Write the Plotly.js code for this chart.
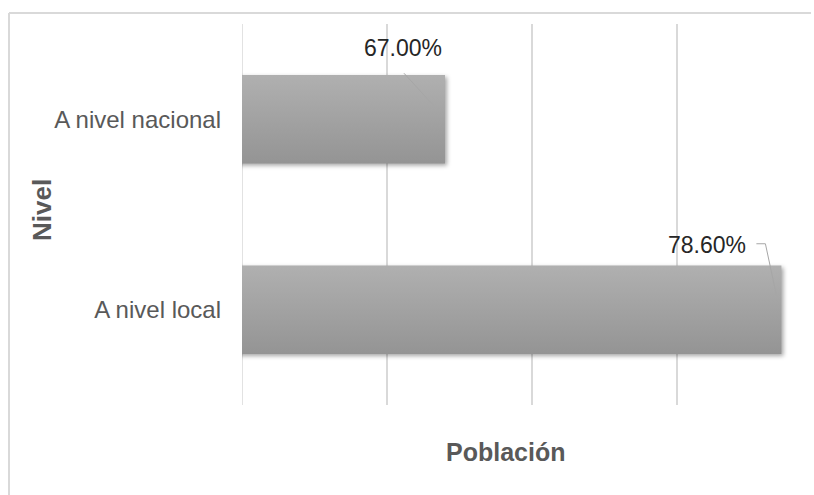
<!DOCTYPE html>
<html>
<head>
<meta charset="utf-8">
<script src="https://cdn.plot.ly/plotly-3.0.1.min.js"></script>
<style>
  html, body { margin: 0; padding: 0; background: #ffffff; overflow: hidden; }
  #chart { width: 814px; height: 495px; }
</style>
</head>
<body>
<div id="chart"></div>
<script>
// Categories and values (percent of population)
const niveles = ['A nivel nacional', 'A nivel local'];
const poblacion = [67.0, 78.6];
const etiquetas = poblacion.map(v => v.toFixed(2) + '%');

const W = 814, H = 495;
const M = { l: 242, r: 0, t: 24, b: 90 };
const plotW = W - M.l - M.r;
const plotH = H - M.t - M.b;
// pixel -> paper helpers for decorations placed outside the plot area
const px = x => (x - M.l) / plotW;
const py = y => (H - M.b - y) / plotH;

const FONT = 'Liberation Sans, Arial, sans-serif';
const X_MIN = 60;

const trace = {
  type: 'bar',
  orientation: 'h',
  y: niveles,
  x: poblacion,
  marker: { color: '#a3a3a3', line: { width: 0 } },
  hoverinfo: 'skip',
  showlegend: false
};

// Value labels with their leader lines, anchored to each bar end
const labelOffsets = [
  { dx: -42, dy: 71, path: 'M -41,46 L -9,11' },
  { dx: -74, dy: 65, path: 'M -25,66 L -16,66 L -4,10' }
];

const annotations = poblacion.map((v, i) => ({
  x: v, y: niveles[i], xref: 'x', yref: 'y',
  xshift: labelOffsets[i].dx, yshift: labelOffsets[i].dy,
  text: etiquetas[i], showarrow: false,
  font: { family: FONT, size: 23, color: '#262626' },
  xanchor: 'center', yanchor: 'middle'
}));

annotations.push({
  x: px(505), y: py(452), xref: 'paper', yref: 'paper',
  text: '<b>Población</b>', showarrow: false,
  font: { family: FONT, size: 25, color: '#595959' },
  xanchor: 'center', yanchor: 'middle'
});
annotations.push({
  x: px(42), y: py(210), xref: 'paper', yref: 'paper',
  text: '<b>Nivel</b>', showarrow: false, textangle: -90,
  font: { family: FONT, size: 26, color: '#595959' },
  xanchor: 'center', yanchor: 'middle'
});

const shapes = poblacion.map((v, i) => ({
  type: 'path', xref: 'x', yref: 'y',
  xsizemode: 'pixel', ysizemode: 'pixel',
  xanchor: v, yanchor: niveles[i],
  path: labelOffsets[i].path,
  line: { color: '#a6a6a6', width: 1 },
  layer: 'above'
}));

// gridline on the left edge of the value axis
shapes.push({
  type: 'line', xref: 'x', yref: 'paper',
  x0: X_MIN, x1: X_MIN, y0: 0, y1: 1,
  line: { color: '#d9d9d9', width: 1.5 },
  layer: 'below'
});

// chart frame: left and top edges
const frameLine = { color: '#d9d9d9', width: 2 };
shapes.push({
  type: 'line', xref: 'paper', yref: 'paper',
  x0: px(9), x1: px(9), y0: py(H + 5), y1: py(13),
  line: frameLine, layer: 'below'
});
shapes.push({
  type: 'line', xref: 'paper', yref: 'paper',
  x0: px(9), x1: px(W - 3), y0: py(13), y1: py(13),
  line: frameLine, layer: 'below'
});

const layout = {
  width: W, height: H,
  margin: M,
  paper_bgcolor: '#ffffff',
  plot_bgcolor: 'rgba(0,0,0,0)',
  bargap: 0.535,
  xaxis: {
    range: [X_MIN, X_MIN + plotW / 29],
    tick0: 0, dtick: 5,
    showgrid: true, gridcolor: '#d9d9d9', gridwidth: 1.5,
    zeroline: false, showline: false,
    showticklabels: false, ticks: '',
    fixedrange: true
  },
  yaxis: {
    type: 'category',
    autorange: 'reversed',
    showgrid: false, zeroline: false, showline: false,
    ticks: '', ticklabelstandoff: 20,
    tickfont: { family: FONT, size: 24, color: '#595959' },
    fixedrange: true
  },
  annotations: annotations,
  shapes: shapes,
  hovermode: false
};

Plotly.newPlot('chart', [trace], layout, { displayModeBar: false, staticPlot: true }).then(gd => {
  // vertical grey gradient and soft shadow on the bars
  const svg = gd.querySelector('.main-svg');
  const ns = 'http://www.w3.org/2000/svg';
  let defs = svg.querySelector('defs');
  if (!defs) { defs = document.createElementNS(ns, 'defs'); svg.insertBefore(defs, svg.firstChild); }
  const grad = document.createElementNS(ns, 'linearGradient');
  grad.setAttribute('id', 'barGrad');
  grad.setAttribute('x1', '0'); grad.setAttribute('y1', '0');
  grad.setAttribute('x2', '0'); grad.setAttribute('y2', '1');
  [['0%', '#b0b0b0'], ['100%', '#949494']].forEach(([o, c]) => {
    const s = document.createElementNS(ns, 'stop');
    s.setAttribute('offset', o); s.setAttribute('stop-color', c);
    grad.appendChild(s);
  });
  defs.appendChild(grad);
  gd.querySelectorAll('.barlayer .point path').forEach(p => {
    p.style.fill = 'url(#barGrad)';
    p.style.filter = 'drop-shadow(2px 2px 2px rgba(0,0,0,0.35))';
  });
});
</script>
</body>
</html>
